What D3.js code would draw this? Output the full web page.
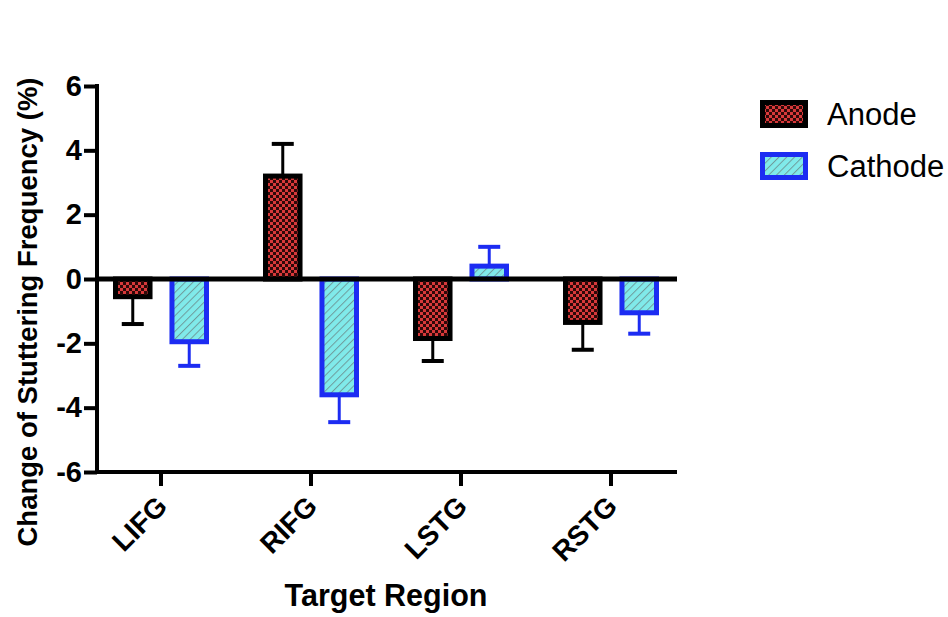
<!DOCTYPE html>
<html>
<head>
<meta charset="utf-8">
<script src="https://cdn.jsdelivr.net/npm/d3@7"></script>
<style>
  body { margin: 0; background: #fff; }
  svg { font-family: "Liberation Sans", Arial, sans-serif; }
</style>
</head>
<body>
<div id="chart"></div>
<script>
const regions = ["LIFG", "RIFG", "LSTG", "RSTG"];
const seriesNames = ["Anode", "Cathode"];
const anodeMean = [-0.55, 3.2, -1.85, -1.35];
const anodeErr = [0.85, 1.0, 0.7, 0.85];
const cathodeMean = [-1.95, -3.6, 0.4, -1.05];
const cathodeErr = [0.75, 0.85, 0.6, 0.65];
const yTicks = [-6, -4, -2, 0, 2, 4, 6];

const W = 948, H = 617;
const svg = d3.select("#chart").append("svg").attr("width", W).attr("height", H);

// patterns
const defs = svg.append("defs");
const chk = defs.append("pattern").attr("id", "chk")
  .attr("patternUnits", "userSpaceOnUse").attr("width", 6).attr("height", 6);
chk.append("rect").attr("width", 6).attr("height", 6).attr("fill", "#2e0909");
chk.append("rect").attr("width", 3).attr("height", 3).attr("fill", "#d8393a");
chk.append("rect").attr("x", 3).attr("y", 3).attr("width", 3).attr("height", 3).attr("fill", "#d8393a");

const hatch = defs.append("pattern").attr("id", "hatch")
  .attr("patternUnits", "userSpaceOnUse").attr("width", 5.5).attr("height", 5.5)
  .attr("patternTransform", "rotate(45)");
hatch.append("rect").attr("width", 5.5).attr("height", 5.5).attr("fill", "#80eaea");
hatch.append("line").attr("x1", 0).attr("y1", 0).attr("x2", 0).attr("y2", 5.5)
  .attr("stroke", "#6f9c9c").attr("stroke-width", 2);

const pLeft = 97, pRight = 677, pTop = 86, pBottom = 472;
const y = d3.scaleLinear().domain([-6, 6]).range([pBottom, pTop]);
const x = d3.scaleBand().domain(regions).range([86, 686]).paddingInner(0).paddingOuter(0);
const xs = d3.scaleBand().domain(seriesNames).range([-48, 48]).paddingInner(0.3);

const data = [];
regions.forEach((r, i) => {
  data.push({ region: r, s: "Anode", v: anodeMean[i], e: anodeErr[i] });
  data.push({ region: r, s: "Cathode", v: cathodeMean[i], e: cathodeErr[i] });
});

const style = {
  Anode: { fill: "url(#chk)", stroke: "#000" },
  Cathode: { fill: "url(#hatch)", stroke: "#1c2cf2" }
};
const sw = 5;
const bx = d => x(d.region) + x.bandwidth() / 2 + xs(d.s);
const cx = d => bx(d) + xs.bandwidth() / 2;

// error bars (one-sided, away from zero)
const eb = svg.append("g");
data.forEach(d => {
  const sign = d.v >= 0 ? 1 : -1;
  const yEnd = y(d.v + sign * d.e);
  eb.append("line").attr("x1", cx(d)).attr("x2", cx(d))
    .attr("y1", y(d.v)).attr("y2", yEnd)
    .attr("stroke", style[d.s].stroke).attr("stroke-width", 3);
  eb.append("line").attr("x1", cx(d) - 11).attr("x2", cx(d) + 11)
    .attr("y1", yEnd).attr("y2", yEnd)
    .attr("stroke", style[d.s].stroke).attr("stroke-width", 4);
});

// bars
svg.append("g").selectAll("rect").data(data).enter().append("rect")
  .attr("x", d => bx(d) + sw / 2)
  .attr("width", xs.bandwidth() - sw)
  .attr("y", d => Math.min(y(d.v), y(0)))
  .attr("height", d => Math.abs(y(d.v) - y(0)))
  .attr("fill", d => style[d.s].fill)
  .attr("stroke", d => style[d.s].stroke)
  .attr("stroke-width", sw);

// zero line
svg.append("line").attr("x1", pLeft).attr("x2", pRight).attr("y1", y(0)).attr("y2", y(0))
  .attr("stroke", "#000").attr("stroke-width", 5);

// y axis
const yAxis = svg.append("g").attr("transform", `translate(${pLeft},0)`)
  .call(d3.axisLeft(y).tickValues(yTicks).tickSize(13).tickPadding(2).tickFormat(d3.format("d")));
yAxis.select(".domain").attr("stroke-width", 4).attr("d", `M0,${pTop - 2}V${pBottom + 2}`);
yAxis.selectAll(".tick line").attr("stroke-width", 4);
yAxis.selectAll(".tick text").attr("font-size", 29).attr("font-weight", "bold").attr("fill", "#000")
  .text(d => d < 0 ? "-" + Math.abs(d) : d);

// x axis
const xAxis = svg.append("g").attr("transform", `translate(0,${pBottom})`)
  .call(d3.axisBottom(x).tickSize(14));
xAxis.select(".domain").attr("stroke-width", 4).attr("d", `M${pLeft - 2},0H${pRight}`);
xAxis.selectAll(".tick line").attr("stroke-width", 4);
xAxis.selectAll(".tick text").attr("font-size", 28).attr("font-weight", "bold").attr("fill", "#000")
  .attr("text-anchor", "end").attr("x", 0).attr("y", 0).attr("dy", "0.35em")
  .attr("transform", "translate(1,29) rotate(-45)");

// axis titles
svg.append("text").attr("transform", "translate(37,312) rotate(-90)")
  .attr("text-anchor", "middle").attr("font-size", 27.5).attr("font-weight", "bold")
  .text("Change of Stuttering Frequency (%)");
svg.append("text").attr("x", 386).attr("y", 606).attr("text-anchor", "middle")
  .attr("font-size", 30.5).attr("font-weight", "bold").text("Target Region");

// legend
const lg = svg.append("g").attr("transform", "translate(760,100)");
seriesNames.forEach((s, i) => {
  const g = lg.append("g").attr("transform", `translate(0,${i * 52})`);
  g.append("rect").attr("x", 2.5).attr("y", 2.5).attr("width", 43).attr("height", 23)
    .attr("fill", style[s].fill).attr("stroke", style[s].stroke).attr("stroke-width", sw);
  g.append("text").attr("x", 67).attr("y", 14).attr("dy", "0.35em")
    .attr("font-size", 31).text(s);
});
</script>
</body>
</html>
